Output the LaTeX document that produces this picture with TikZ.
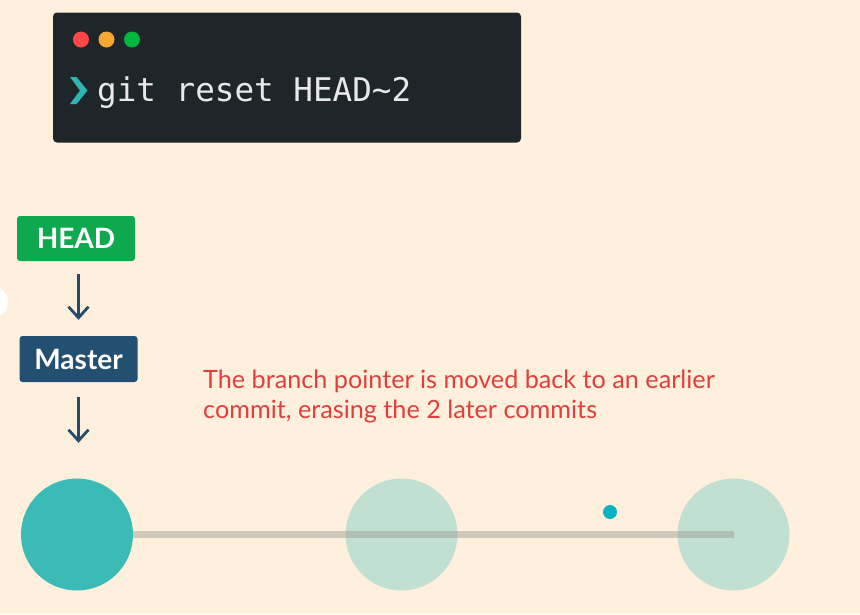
\documentclass[tikz,border=0pt]{standalone}
\usepackage{fontspec}
\setmainfont{Lato}
\newfontfamily\termfont{DejaVu Sans Mono}
\usetikzlibrary{positioning, arrows.meta}

\definecolor{bgcream}{HTML}{FEF0DC}
\definecolor{termdark}{HTML}{1F2629}
\definecolor{termtext}{HTML}{E8E8E8}
\definecolor{dotred}{HTML}{FF4747}
\definecolor{dotorange}{HTML}{F8A632}
\definecolor{dotgreen}{HTML}{00B83E}
\definecolor{promptcyan}{HTML}{2DB6B8}
\definecolor{headgreen}{HTML}{0EA84E}
\definecolor{masterblue}{HTML}{234F70}
\definecolor{arrowblue}{HTML}{244C6A}
\definecolor{notered}{HTML}{E13F3E}
\definecolor{committeal}{HTML}{3ABBB5}
\definecolor{commitpale}{HTML}{C2E0D2}
\definecolor{linegray}{HTML}{9E9890}
\definecolor{clickcyan}{HTML}{0AB3BF}

\begin{document}
\begin{tikzpicture}[x=1pt, y=-1pt,
    refbox/.style={rounded corners=3pt, text=white, inner sep=0pt,
        minimum width=118pt, minimum height=45pt,
        font=\bfseries\fontsize{28}{28}\selectfont},
    ptr/.style={-{Straight Barb[length=11pt, width=20pt]}, line width=2.8pt, draw=arrowblue},
    commit/.style={circle, minimum size=112pt, inner sep=0pt}]
    % Background
    \fill[bgcream] (0,0) rectangle (860,614);
    \useasboundingbox (0,0) rectangle (860,614);
    \fill[white] (-8,302) circle (16);

    % Terminal window
    \node[fill=termdark, rounded corners=4pt, minimum width=468pt, minimum height=130pt] (term) at (287,77.5) {};
    \fill[dotred] (81,39.5) circle (8);
    \fill[dotorange] (106.5,39.5) circle (8);
    \fill[dotgreen] (132,39.5) circle (8);
    \fill[promptcyan] (70,77) -- (76.5,77) -- (87.5,90.5) -- (76.5,104) -- (70,104) -- (80,90.5) -- cycle;
    \node[anchor=base west, inner sep=0pt, text=termtext, font=\termfont\fontsize{32.6}{32.6}\selectfont] (cmd) at (97,101) {git reset HEAD\textasciitilde 2};

    % Pointers
    \node[refbox, fill=headgreen] (head) at (76,238.5) {HEAD};
    \node[refbox, fill=masterblue, minimum height=46pt] (master) at (78.5,359) {Master};

    % Commits
    \node[commit, fill=committeal] (c1) at (77,534.5) {};
    \node[commit, fill=commitpale] (c2) at (401.5,534.5) {};
    \node[commit, fill=commitpale] (c3) at (733.5,534.5) {};
    \draw[line width=7pt, draw=linegray, opacity=0.45] (c1.east) -- (c3.center);

    % Arrows
    \draw[ptr, shorten <=13pt, shorten >=16pt] (head.south -| master) -- (master.north);
    \draw[ptr, shorten <=14.5pt, shorten >=35.5pt] (master.south) -- (master.south |- c1.north);

    % Note
    \node[anchor=base west, align=left, inner sep=0pt, text=notered,
        font=\fontsize{25.2}{30}\selectfont] (note) at (203,418)
        {The branch pointer is moved back to an earlier\\commit, erasing the 2 later commits};

    % Click marker
    \fill[clickcyan] (610,512) circle (7);
\end{tikzpicture}
\end{document}
